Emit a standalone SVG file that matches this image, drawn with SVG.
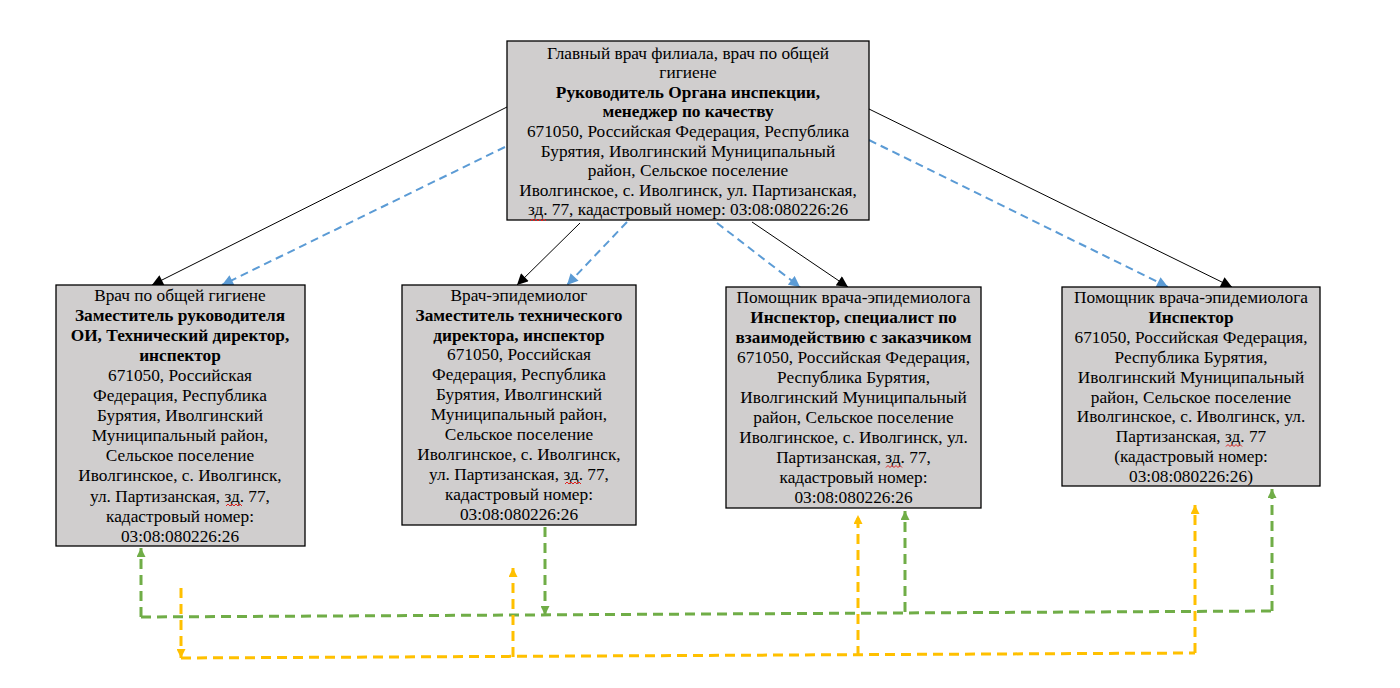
<svg xmlns="http://www.w3.org/2000/svg" width="1400" height="688" viewBox="0 0 1400 688">
<style>
.box{fill:#d0cece;stroke:#000;stroke-width:1.3}
text{font-size:17.3px;fill:#000;text-anchor:middle}
.b{font-weight:bold}
.blk{stroke:#000;stroke-width:1;fill:none}
.blu{stroke:#5b9bd5;stroke-width:2;stroke-dasharray:8 5;fill:none}
.grn{stroke:#70ad47;stroke-width:3;stroke-dasharray:10 6;fill:none}
.ylw{stroke:#ffc000;stroke-width:3;stroke-dasharray:10 6;fill:none}
.sq{stroke:#e02020;stroke-width:1;fill:none}
</style>
<defs>
<marker id="aBlk" viewBox="0 0 10 10" refX="10" refY="5" markerWidth="12" markerHeight="11" markerUnits="userSpaceOnUse" orient="auto"><path d="M0,0 L10,5 L0,10 z" fill="#000"/></marker>
<marker id="aBlu" viewBox="0 0 10 10" refX="10" refY="5" markerWidth="12" markerHeight="11" markerUnits="userSpaceOnUse" orient="auto"><path d="M0,0 L10,5 L0,10 z" fill="#5b9bd5"/></marker>
<marker id="aGrn" viewBox="0 0 10 10" refX="10" refY="5" markerWidth="10" markerHeight="9" markerUnits="userSpaceOnUse" orient="auto"><path d="M0,0 L10,5 L0,10 z" fill="#70ad47"/></marker>
<marker id="aYlw" viewBox="0 0 10 10" refX="10" refY="5" markerWidth="10" markerHeight="9" markerUnits="userSpaceOnUse" orient="auto"><path d="M0,0 L10,5 L0,10 z" fill="#ffc000"/></marker>
</defs>
<rect width="1400" height="688" fill="#fff"/>
<g id="connectors">
<path class="blk" d="M507,107 L152,285" marker-end="url(#aBlk)"/>
<path class="blu" d="M505,147 L222,285" marker-end="url(#aBlu)"/>
<path class="blk" d="M580,223 L517,285" marker-end="url(#aBlk)"/>
<path class="blu" d="M627,222 L567,285" marker-end="url(#aBlu)"/>
<path class="blu" d="M717,223 L800,287" marker-end="url(#aBlu)"/>
<path class="blk" d="M752,222 L848,287" marker-end="url(#aBlk)"/>
<path class="blu" d="M869,140 L1168,287" marker-end="url(#aBlu)"/>
<path class="blk" d="M869,109 L1232,287" marker-end="url(#aBlk)"/>
<path class="grn" d="M141,617 L1272,611"/>
<path class="grn" d="M545,527 L545,615" marker-end="url(#aGrn)"/>
<path class="grn" d="M141,617 L141,548" marker-end="url(#aGrn)"/>
<path class="grn" d="M905,612 L905,511" marker-end="url(#aGrn)"/>
<path class="grn" d="M1272,611 L1272,489" marker-end="url(#aGrn)"/>
<path class="ylw" d="M181,658 L1195,653"/>
<path class="ylw" d="M181,588 L181,658" marker-end="url(#aYlw)"/>
<path class="ylw" d="M513,657 L513,568" marker-end="url(#aYlw)"/>
<path class="ylw" d="M858,656 L858,515" marker-end="url(#aYlw)"/>
<path class="ylw" d="M1195,653 L1195,505" marker-end="url(#aYlw)"/>
</g>
<g font-family="'Liberation Serif', 'DejaVu Serif', 'Times New Roman', serif">
<g id="top">
<rect class="box" x="507" y="41" width="362" height="179"/>
<text x="688" y="58.5">Главный врач филиала, врач по общей</text>
<text x="688" y="78.1">гигиене</text>
<text x="688" y="97.7" class="b">Руководитель Органа инспекции,</text>
<text x="688" y="117.3" class="b">менеджер по качеству</text>
<text x="688" y="136.9">671050, Российская Федерация, Республика</text>
<text x="688" y="156.5">Бурятия, Иволгинский Муниципальный</text>
<text x="688" y="176.1">район, Сельское поселение</text>
<text x="688" y="195.7">Иволгинское, с. Иволгинск, ул. Партизанская,</text>
<text x="688" y="215.3">зд. 77, кадастровый номер: 03:08:080226:26</text>
</g>
<g id="n1">
<rect class="box" x="56" y="285" width="249" height="261"/>
<text x="180" y="300.7">Врач по общей гигиене</text>
<text x="180" y="320.8" class="b">Заместитель руководителя</text>
<text x="180" y="340.9" class="b">ОИ, Технический директор,</text>
<text x="180" y="361" class="b">инспектор</text>
<text x="180" y="381">671050, Российская</text>
<text x="180" y="401.1">Федерация, Республика</text>
<text x="180" y="421.2">Бурятия, Иволгинский</text>
<text x="180" y="441.3">Муниципальный район,</text>
<text x="180" y="461.3">Сельское поселение</text>
<text x="180" y="481.4">Иволгинское, с. Иволгинск,</text>
<text x="180" y="501.5">ул. Партизанская, зд. 77,</text>
<text x="180" y="521.6">кадастровый номер:</text>
<text x="180" y="541.7">03:08:080226:26</text>
</g>
<g id="n2">
<rect class="box" x="402" y="285" width="234" height="240"/>
<text x="519" y="300.7">Врач-эпидемиолог</text>
<text x="519" y="320.6" class="b">Заместитель технического</text>
<text x="519" y="340.5" class="b">директора, инспектор</text>
<text x="519" y="360.4">671050, Российская</text>
<text x="519" y="380.3">Федерация, Республика</text>
<text x="519" y="400.2">Бурятия, Иволгинский</text>
<text x="519" y="420.1">Муниципальный район,</text>
<text x="519" y="440">Сельское поселение</text>
<text x="519" y="459.9">Иволгинское, с. Иволгинск,</text>
<text x="519" y="479.8">ул. Партизанская, зд. 77,</text>
<text x="519" y="499.7">кадастровый номер:</text>
<text x="519" y="519.6">03:08:080226:26</text>
</g>
<g id="n3">
<rect class="box" x="726" y="287" width="255" height="221"/>
<text x="853.5" y="303">Помощник врача-эпидемиолога</text>
<text x="853.5" y="323" class="b">Инспектор, специалист по</text>
<text x="853.5" y="343" class="b">взаимодействию с заказчиком</text>
<text x="853.5" y="363">671050, Российская Федерация,</text>
<text x="853.5" y="383">Республика Бурятия,</text>
<text x="853.5" y="403">Иволгинский Муниципальный</text>
<text x="853.5" y="423">район, Сельское поселение</text>
<text x="853.5" y="443">Иволгинское, с. Иволгинск, ул.</text>
<text x="853.5" y="463">Партизанская, зд. 77,</text>
<text x="853.5" y="483">кадастровый номер:</text>
<text x="853.5" y="503">03:08:080226:26</text>
</g>
<g id="n4">
<rect class="box" x="1062" y="287" width="258" height="199"/>
<text x="1191" y="303">Помощник врача-эпидемиолога</text>
<text x="1191" y="322.9" class="b">Инспектор</text>
<text x="1191" y="342.8">671050, Российская Федерация,</text>
<text x="1191" y="362.7">Республика Бурятия,</text>
<text x="1191" y="382.6">Иволгинский Муниципальный</text>
<text x="1191" y="402.5">район, Сельское поселение</text>
<text x="1191" y="422.4">Иволгинское, с. Иволгинск, ул.</text>
<text x="1191" y="442.3">Партизанская, зд. 77</text>
<text x="1191" y="462.2">(кадастровый номер:</text>
<text x="1191" y="482.1">03:08:080226:26)</text>
</g>
</g>
<g id="spellmarks">
<path class="sq" d="M530,221 l2,-2 l2,2 l2,-2 l2,2 l2,-2 l2,2 l2,-2 l2,2"/>
<path class="sq" d="M226,506 l2,-2 l2,2 l2,-2 l2,2 l2,-2 l2,2 l2,-2 l2,2"/>
<path class="sq" d="M565,484 l2,-2 l2,2 l2,-2 l2,2 l2,-2 l2,2 l2,-2 l2,2"/>
<path class="sq" d="M886,467.5 l2,-2 l2,2 l2,-2 l2,2 l2,-2 l2,2 l2,-2 l2,2"/>
<path class="sq" d="M1226,446.5 l2,-2 l2,2 l2,-2 l2,2 l2,-2 l2,2 l2,-2 l2,2"/>
</g>
</svg>
